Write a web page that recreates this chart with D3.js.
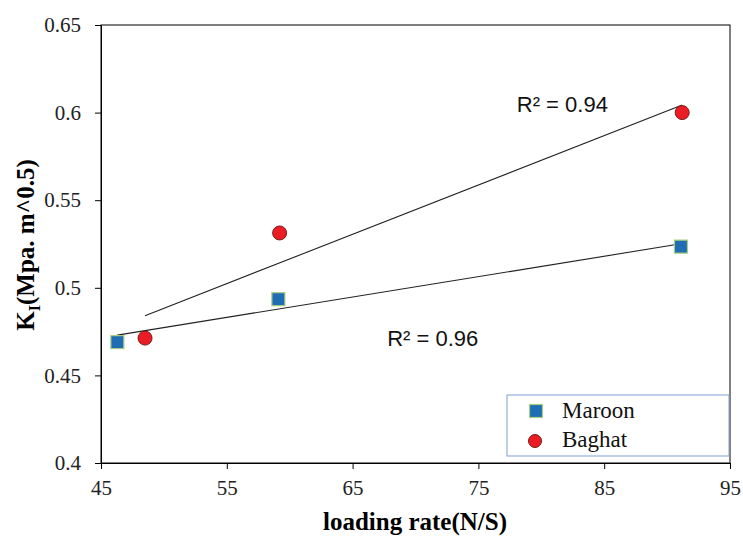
<!DOCTYPE html>
<html>
<head>
<meta charset="utf-8">
<script src="https://cdn.jsdelivr.net/npm/d3@7"></script>
<style>
  body { margin: 0; background: #fff; }
  svg { display: block; }
</style>
</head>
<body>
<div id="chart"></div>
<script>
// data
var maroonX = [46.3, 59.1, 91.1];
var maroonY = [0.469, 0.4935, 0.5235];
var baghatX = [48.5, 59.2, 91.2];
var baghatY = [0.4713, 0.5313, 0.6];
var xTicks = [45, 55, 65, 75, 85, 95];
var yTicks = [0.4, 0.45, 0.5, 0.55, 0.6, 0.65];
var r2Labels = ["R\u00b2 = 0.96", "R\u00b2 = 0.94"];
var seriesNames = ["Maroon", "Baghat"];

var serif = "'Liberation Serif', 'Times New Roman', Times, serif";
var sans = "'Liberation Sans', Arial, Helvetica, sans-serif";

var width = 743,
    height = 537,
    margin = {top: 25, right: 13, bottom: 74, left: 101};

var svg = d3.select("#chart")
  .append("svg")
  .attr("width", width)
  .attr("height", height);

var w = width - margin.left - margin.right,
    h = height - margin.top - margin.bottom;

var g = svg.append("g")
  .attr("transform", `translate(${margin.left},${margin.top})`);

var xScale = d3.scaleLinear().domain([45, 95]).range([0, w]);
var yScale = d3.scaleLinear().domain([0.4, 0.65]).range([h, 0]);

// frame
g.append("rect")
  .attr("width", w).attr("height", h)
  .attr("fill", "none").attr("stroke", "#000").attr("stroke-width", 1);

var xAxis = d3.axisBottom(xScale).tickValues(xTicks).tickSize(6).tickSizeOuter(0);
var yAxis = d3.axisLeft(yScale).tickValues(yTicks).tickSize(6).tickSizeOuter(0).tickPadding(14)
  .tickFormat(d => String(+d.toFixed(2)));

var gx = g.append("g")
  .attr("class", "x axis")
  .attr("transform", `translate(0,${h})`)
  .call(xAxis);

var gy = g.append("g")
  .attr("class", "y axis")
  .call(yAxis);

[gx, gy].forEach(function (ax) {
  ax.attr("font-family", serif).attr("font-size", 21);
  ax.select(".domain").attr("stroke", "#000");
  ax.selectAll("line").attr("stroke", "#000");
  ax.selectAll("text").attr("fill", "#222");
});
// bottom labels sit lower under the axis
gx.selectAll("text").attr("y", 32).attr("dy", null);

// linear trendlines from the data
function fit(xs, ys) {
  var mx = d3.mean(xs), my = d3.mean(ys);
  var sxy = d3.sum(xs, (x, i) => (x - mx) * (ys[i] - my));
  var sxx = d3.sum(xs, x => (x - mx) * (x - mx));
  var b = sxy / sxx, a = my - b * mx;
  return x => a + b * x;
}

[[maroonX, maroonY], [baghatX, baghatY]].forEach(function (s) {
  var f = fit(s[0], s[1]);
  var x0 = d3.min(s[0]), x1 = d3.max(s[0]);
  g.append("line")
    .attr("x1", xScale(x0)).attr("y1", yScale(f(x0)))
    .attr("x2", xScale(x1)).attr("y2", yScale(f(x1)))
    .attr("stroke", "#222").attr("stroke-width", 1.1);
});

// R² labels
g.append("text")
  .attr("x", xScale(67.75)).attr("y", yScale(0.467))
  .attr("font-family", sans).attr("font-size", 22).attr("fill", "#111")
  .text(r2Labels[0]);
g.append("text")
  .attr("x", xScale(78.05)).attr("y", yScale(0.6002))
  .attr("font-family", sans).attr("font-size", 22).attr("fill", "#111")
  .text(r2Labels[1]);

// Maroon squares
g.selectAll(".maroon")
  .data(maroonX.map((x, i) => [x, maroonY[i]]))
  .enter().append("rect")
  .attr("class", "maroon")
  .attr("x", d => xScale(d[0]) - 6.5)
  .attr("y", d => yScale(d[1]) - 6.5)
  .attr("width", 13).attr("height", 13)
  .attr("fill", "#1f6db5").attr("stroke", "#a8cf7e").attr("stroke-width", 1.2);

// Baghat circles
g.selectAll(".baghat")
  .data(baghatX.map((x, i) => [x, baghatY[i]]))
  .enter().append("circle")
  .attr("class", "baghat")
  .attr("cx", d => xScale(d[0]))
  .attr("cy", d => yScale(d[1]))
  .attr("r", 7)
  .attr("fill", "#ec1c24").attr("stroke", "#7a1a1a").attr("stroke-width", 1);

// axis titles
svg.append("text")
  .attr("x", 415).attr("y", 530)
  .attr("text-anchor", "middle")
  .attr("font-family", serif).attr("font-size", 25).attr("font-weight", "bold")
  .text("loading rate(N/S)");

var yl = svg.append("text")
  .attr("transform", "translate(34,245) rotate(-90)")
  .attr("text-anchor", "middle")
  .attr("font-family", serif).attr("font-size", 25).attr("font-weight", "bold");
yl.append("tspan").text("K");
yl.append("tspan").attr("dy", 6).attr("font-size", 16).text("I");
yl.append("tspan").attr("dy", -6).text("(Mpa. m^0.5)");

// legend
var legend = svg.append("g").attr("transform", "translate(507,395)");
legend.append("rect")
  .attr("width", 222).attr("height", 61)
  .attr("fill", "#fff").attr("stroke", "#7f9fd0").attr("stroke-width", 1);
legend.append("rect")
  .attr("x", 22.5).attr("y", 9.5).attr("width", 13).attr("height", 13)
  .attr("fill", "#1f6db5").attr("stroke", "#a8cf7e").attr("stroke-width", 1.2);
legend.append("circle")
  .attr("cx", 28).attr("cy", 46).attr("r", 6.5)
  .attr("fill", "#ec1c24").attr("stroke", "#7a1a1a").attr("stroke-width", 1);
legend.selectAll(".lt")
  .data(seriesNames)
  .enter().append("text")
  .attr("class", "lt")
  .attr("x", 55).attr("y", (d, i) => 23 + i * 29)
  .attr("font-family", serif).attr("font-size", 23).attr("fill", "#111")
  .text(d => d);
</script>
</body>
</html>
